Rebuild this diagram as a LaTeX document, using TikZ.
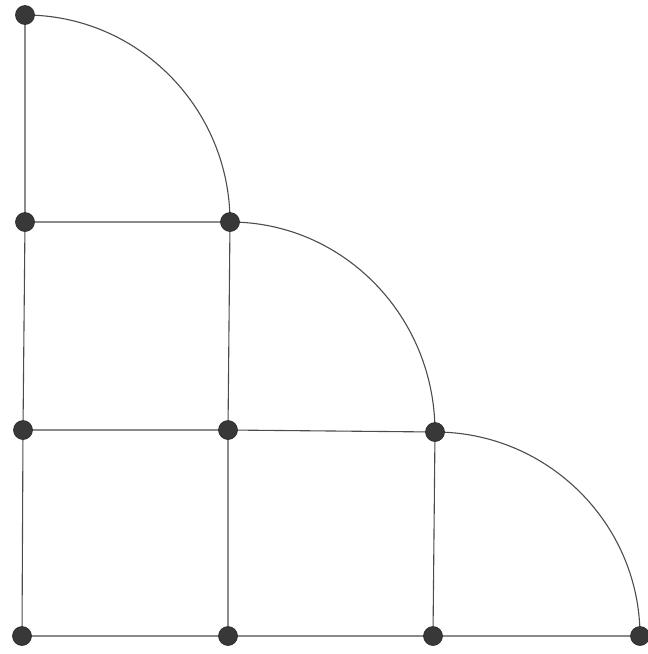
\documentclass[tikz,border=0pt]{standalone}
\pgfdeclarelayer{bg}
\pgfsetlayers{bg,main}
\begin{document}
\begin{tikzpicture}[x=1pt,y=-1pt,
  dot/.style={circle,fill=black!78,draw=black!85,line width=0.6pt,inner sep=0pt,minimum size=19pt},
  edge/.style={draw=black!70,line width=1.1pt}]
\useasboundingbox (0,0) rectangle (648,654);
\node[dot] (a) at (25,15) {};
\node[dot] (b1) at (25,222) {};
\node[dot] (b2) at (230,222) {};
\node[dot] (c1) at (23,430) {};
\node[dot] (c2) at (228,430) {};
\node[dot] (c3) at (435,432) {};
\node[dot] (d1) at (22,636) {};
\node[dot] (d2) at (228,636) {};
\node[dot] (d3) at (433,636) {};
\node[dot] (d4) at (640,636) {};
\begin{pgfonlayer}{bg}
\draw[edge] (a.center) -- (b1.center) -- (c1.center) -- (d1.center) -- (d2.center) -- (d3.center) -- (d4.center);
\draw[edge] (b1.center) -- (b2.center) -- (c2.center) -- (d2.center);
\draw[edge] (c1.center) -- (c2.center) -- (c3.center) -- (d3.center);
\draw[edge] (a.center) .. controls +(113,0) and +(0,-114) .. (b2.center);
\draw[edge] (b2.center) .. controls +(113,0) and +(0,-116) .. (c3.center);
\draw[edge] (c3.center) .. controls +(113,0) and +(0,-112) .. (d4.center);
\end{pgfonlayer}
\end{tikzpicture}
\end{document}
